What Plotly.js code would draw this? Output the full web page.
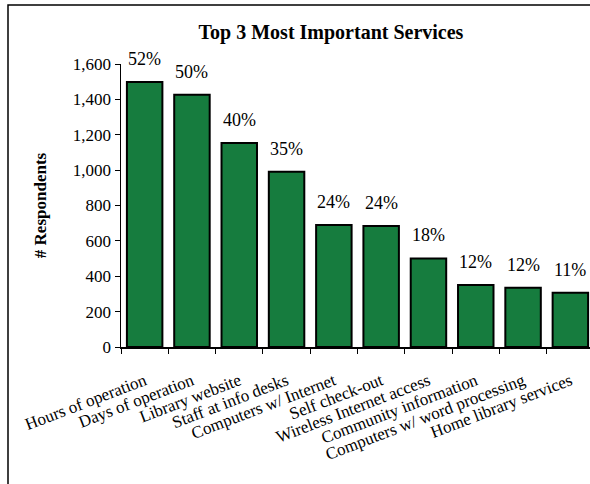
<!DOCTYPE html>
<html>
<head>
<meta charset="utf-8">
<script src="https://cdn.plot.ly/plotly-3.0.1.min.js"></script>
<style>html,body{margin:0;padding:0;background:#fff;overflow:hidden}</style>
</head>
<body>
<div id="chart" style="width:590px;height:484px"></div>
<script>
const categories = ["Hours of operation","Days of operation","Library website","Staff at info desks","Computers w/ Internet","Self check-out","Wireless Internet access","Community information","Computers w/ word processing","Home library services"];
const respondents = [1498, 1426, 1153, 991, 690, 684, 501, 350, 335, 307];
const percentLabels = ["52%","50%","40%","35%","24%","24%","18%","12%","12%","11%"];
const yTicks = [0,200,400,600,800,1000,1200,1400,1600];

const serif = "Liberation Serif, DejaVu Serif, serif";

const trace = {
  type: "bar",
  x: categories,
  y: respondents,
  marker: {color: "#167C3E", line: {color: "#000", width: 2}},
  width: 0.75,
  hoverinfo: "none"
};

const annotations = categories.map((c, i) => ({
  x: c, y: respondents[i], xref: "x", yref: "y",
  text: percentLabels[i], showarrow: false,
  yanchor: "bottom", yshift: 11,
  font: {family: serif, size: 18, color: "#000"}
}));

const layout = {
  width: 590, height: 484,
  margin: {l: 121, r: 0, t: 64, b: 137},
  paper_bgcolor: "#fff", plot_bgcolor: "#fff",
  showlegend: false,
  title: {text: "<b>Top 3 Most Important Services</b>", x: 331 / 590, xanchor: "center", xref: "container",
          y: 0.934, yanchor: "middle", yref: "container",
          font: {family: serif, size: 20, color: "#000"}},
  xaxis: {
    type: "category", range: [-0.5, 9.415],
    showline: true, linecolor: "#000", linewidth: 1.5,
    ticks: "outside", tickson: "boundaries", ticklen: 5, tickcolor: "#000", tickwidth: 1,
    tickangle: -21, ticklabelstandoff: 16,
    tickfont: {family: serif, size: 17, color: "#000"},
    showgrid: false, zeroline: false, fixedrange: true
  },
  yaxis: {
    range: [0, 1600], tickvals: yTicks, tickformat: ",d",
    showline: true, linecolor: "#000", linewidth: 1.5,
    ticks: "outside", ticklen: 5, tickcolor: "#000", tickwidth: 1,
    tickfont: {family: serif, size: 17, color: "#000"},
    showgrid: false, zeroline: false, fixedrange: true,
    title: {text: "<b># Respondents</b>", standoff: 22, font: {family: serif, size: 17, color: "#000"}}
  },
  annotations: annotations,
  shapes: [{
    type: "rect", xref: "paper", yref: "paper",
    x0: (8 - 121) / 469, x1: 1.2, y0: -1, y1: (347 - 5) / 283,
    line: {color: "#000", width: 1.5}, fillcolor: "rgba(0,0,0,0)", layer: "below"
  }]
};

Plotly.newPlot("chart", [trace], layout, {displayModeBar: false, staticPlot: true});
</script>
</body>
</html>
